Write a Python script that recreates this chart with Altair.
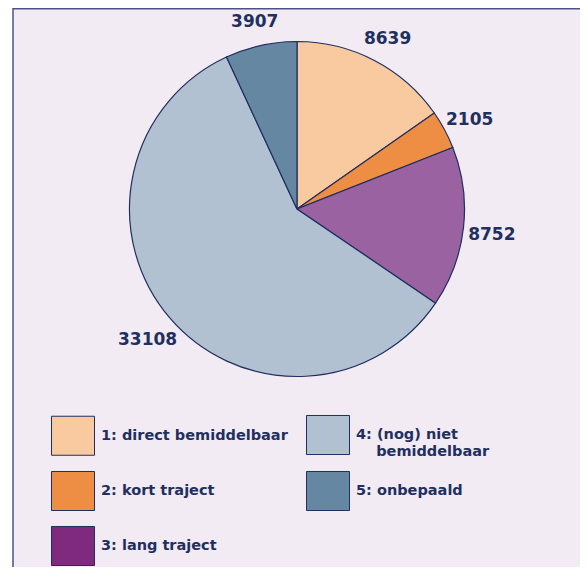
import altair as alt
import pandas as pd

categories = [
    "1: direct bemiddelbaar",
    "2: kort traject",
    "3: lang traject",
    "4: (nog) niet|\u200b\u00a0\u00a0\u00a0\u00a0bemiddelbaar",
    "5: onbepaald",
]
values = [8639, 2105, 8752, 33108, 3907]
slice_colors = ["#f9c9a0", "#ee8e45", "#9a62a0", "#b1c1d1", "#6687a1"]
legend_colors = ["#f9c9a0", "#ee8e45", "#7f2a7f", "#b1c1d1", "#6687a1"]

NAVY = "#1f2f60"
BORDER = "#4a5384"
BG = "#f2ebf3"
FONT = "DejaVu Sans"

df = pd.DataFrame({"cat": categories, "value": values, "idx": list(range(len(values)))})

W, H = 566, 402
PAD = {"left": 6, "top": 0, "right": 0, "bottom": 157}

one = alt.Data(values=[{"a": 1}])

bg = alt.Chart(one).mark_rect(fill=BG).encode(
    x=alt.value(-1), x2=alt.value(W), y=alt.value(0), y2=alt.value(H + 157)
)
top_line = alt.Chart(one).mark_rule(color=BORDER, strokeWidth=1.5).encode(
    x=alt.value(-1), x2=alt.value(W), y=alt.value(0.75)
)
left_line = alt.Chart(one).mark_rule(color=BORDER, strokeWidth=1.5).encode(
    x=alt.value(-1), y=alt.value(0), y2=alt.value(H + 157)
)

pie = alt.Chart(df).mark_arc(radius=167.5, stroke=NAVY, strokeWidth=1.2).encode(
    theta=alt.Theta("value:Q", stack=True),
    color=alt.Color("cat:N", scale=alt.Scale(domain=categories, range=slice_colors), legend=None),
    order=alt.Order("idx:Q"),
)

labels = alt.Chart(df).mark_text(
    radius=196, dy=4, font=FONT, fontWeight="bold", fontSize=17, color=NAVY
).encode(
    theta=alt.Theta("value:Q", stack=True),
    text=alt.Text("value:Q", format="d"),
    order=alt.Order("idx:Q"),
)

legend_layer = alt.Chart(df).mark_point(filled=True).encode(
    color=alt.Color(
        "cat:N",
        scale=alt.Scale(domain=categories, range=legend_colors),
        legend=alt.Legend(
            orient="none", legendX=37, legendY=405, columns=2, title=None,
            symbolType="M-1,-0.907H1V0.907H-1Z", symbolSize=1849,
            symbolStrokeColor=NAVY, symbolStrokeWidth=1, symbolOpacity=1,
            labelFont=FONT, labelFontWeight="bold", labelFontSize=14.5, labelColor=NAVY,
            labelLimit=400, labelOffset=6, rowPadding=11, columnPadding=16, padding=0,
            labelExpr="split(datum.label, '|')",
        ),
    ),
).transform_filter("false")

chart = alt.layer(bg, top_line, left_line, pie, labels, legend_layer).resolve_scale(
    color="independent"
).properties(
    width=W, height=H, padding=PAD, autosize="none", background="white"
).configure_view(stroke=None)

chart.save("out.html", embed_options={"renderer": "svg", "actions": False})
